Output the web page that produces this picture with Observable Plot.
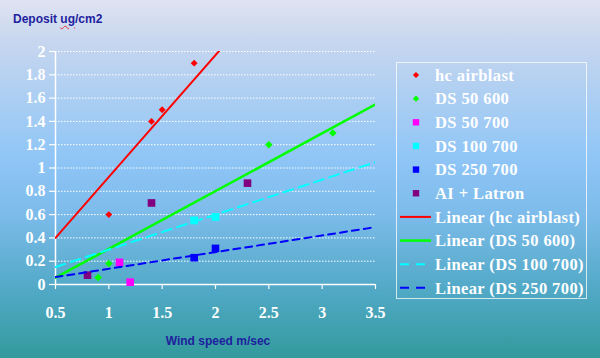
<!DOCTYPE html>
<html>
<head>
<meta charset="utf-8">
<script src="https://cdn.jsdelivr.net/npm/d3@7"></script>
<script src="https://cdn.jsdelivr.net/npm/@observablehq/plot@0.6"></script>
<style>
  html, body { margin: 0; padding: 0; }
  #wrap { position: relative; width: 600px; height: 358px; overflow: hidden;
    background: linear-gradient(to bottom, #dfe3f1 0%, #c6d6ef 12%, #8ec5f6 45%, #7cbbea 60%, #4fa8c4 82%, #339a9c 100%); }
  #wrap svg { position: absolute; left: 0; top: 0; }
  .ttl { position: absolute; font-family: "Liberation Sans", Arial, sans-serif; font-weight: bold; font-size: 12px; color: #1f1f9f; white-space: nowrap; }
  .wavy { text-decoration: underline wavy #e03030; text-decoration-thickness: 1px; text-underline-offset: 2px; }
</style>
</head>
<body>
<div id="wrap"></div>
<script>
// ---- data ----
const seriesNames = ["hc airblast", "DS 50 600", "DS 50 700", "DS 100 700", "DS 250 700", "AI + Latron"];
const hcAirblastX = [1.0, 1.4, 1.5, 1.8];
const hcAirblastY = [0.6, 1.4, 1.5, 1.9];
const ds50_600X = [0.9, 1.0, 2.5, 3.1];
const ds50_600Y = [0.06, 0.18, 1.2, 1.3];
const ds50_700X = [1.1, 1.2];
const ds50_700Y = [0.19, 0.02];
const ds100_700X = [1.8, 2.0];
const ds100_700Y = [0.55, 0.58];
const ds250_700X = [1.8, 2.0];
const ds250_700Y = [0.23, 0.31];
const aiLatronX = [0.8, 1.4, 2.3];
const aiLatronY = [0.08, 0.70, 0.87];

const trendNames = ["Linear (hc airblast)", "Linear (DS 50 600)", "Linear (DS 100 700)", "Linear (DS 250 700)"];
const trendSlope = [1.046, 0.496, 0.300, 0.143];
const trendIntercept = [-0.123, -0.190, 0.0, -0.008];

const xTicks = [0.5, 1, 1.5, 2, 2.5, 3, 3.5];
const yTicks = [0, 0.2, 0.4, 0.6, 0.8, 1, 1.2, 1.4, 1.6, 1.8, 2];
const yTitle = "Deposit ug/cm2";
const xTitle = "Wind speed m/sec";

// ---- styles ----
const seriesColor = ["#ff0000", "#00ff00", "#ff00ff", "#00ffff", "#0000ff", "#800080"];
const seriesSymbol = ["diamond2", "diamond2", "square", "square", "square", "square"];
const seriesR = [3.1, 3.4, 4.3, 4.4, 4.3, 4.3];
const trendColor = ["#ff0000", "#00ff00", "#00ffff", "#0000ff"];
const trendDash = [null, null, "10,6", "7,5"];
const trendWidth = [2, 2.5, 2, 2];

const xs = [hcAirblastX, ds50_600X, ds50_700X, ds100_700X, ds250_700X, aiLatronX];
const ys = [hcAirblastY, ds50_600Y, ds50_700Y, ds100_700Y, ds250_700Y, aiLatronY];
const points = seriesNames.flatMap((s, i) => xs[i].map((x, j) => ({series: s, i, x, y: ys[i][j]})));

const xDomain = [xTicks[0], xTicks[xTicks.length - 1]];
const trendLines = trendNames.map((name, i) =>
  xDomain.map(x => ({name, i, x, y: trendSlope[i] * x + trendIntercept[i]})));

const fmt = d => String(+d.toFixed(1));

const marks = [
  Plot.gridY(yTicks.filter(d => d > 0), {stroke: "white", strokeOpacity: 1, strokeWidth: 1, strokeDasharray: "1.5,1.5"}),
  Plot.axisY({ticks: yTicks, tickSize: 6, tickPadding: 4, tickFormat: fmt, label: null, stroke: "white", strokeWidth: 1.2}),
  Plot.axisX({ticks: xTicks, tickSize: 5, tickPadding: 17, tickFormat: fmt, label: null, stroke: "white", strokeWidth: 1.2}),
  Plot.ruleX([xDomain[0]], {stroke: "white", strokeWidth: 1.5}),
  Plot.ruleY([0], {stroke: "white", strokeWidth: 1.5})
];
points.length;
seriesNames.forEach((s, i) => {
  marks.push(Plot.dot(points.filter(p => p.i === i), {
    x: "x", y: "y", symbol: () => seriesSymbol[i], r: seriesR[i], fill: seriesColor[i], stroke: "none"
  }));
});
trendLines.forEach((line, i) => {
  marks.push(Plot.line(line, {
    x: "x", y: "y", stroke: trendColor[i], strokeWidth: trendWidth[i],
    strokeDasharray: trendDash[i] || undefined, clip: true
  }));
});

const chart = Plot.plot({
  width: 600, height: 358,
  marginLeft: 55, marginRight: 225, marginTop: 51, marginBottom: 74,
  x: {domain: xDomain},
  y: {domain: [yTicks[0], yTicks[yTicks.length - 1]]},
  style: {background: "transparent", color: "white", fontFamily: "'Liberation Serif', 'Times New Roman', serif",
          fontSize: "16px", fontWeight: "bold", overflow: "visible"},
  marks
});
const wrap = document.getElementById("wrap");
wrap.appendChild(chart);

// titles
const t1 = document.createElement("div");
t1.className = "ttl";
t1.style.left = "13px"; t1.style.top = "12px";
t1.innerHTML = yTitle.replace("ug", '<span class="wavy">ug</span>');
wrap.appendChild(t1);
const t2 = document.createElement("div");
t2.className = "ttl";
t2.textContent = xTitle;
t2.style.left = "218px"; t2.style.top = "334px"; t2.style.transform = "translateX(-50%)";
wrap.appendChild(t2);

// legend
const legendItems = seriesNames.map((s, i) => ({label: s, kind: "dot", i}))
  .concat(trendNames.map((s, i) => ({label: s, kind: "line", i})));
const lg = d3.select(wrap).append("svg").attr("width", 600).attr("height", 358);
lg.append("rect").attr("x", 396.5).attr("y", 62.5).attr("width", 190).attr("height", 236)
  .attr("fill", "none").attr("stroke", "white").attr("stroke-opacity", 0.75).attr("stroke-width", 1);
const rowY = k => 75 + k * 23.65;
const sym = {diamond2: d3.symbolDiamond2, square: d3.symbolSquare};
legendItems.forEach((it, k) => {
  const y = rowY(k);
  if (it.kind === "dot") {
    lg.append("path")
      .attr("d", d3.symbol(sym[seriesSymbol[it.i]], Math.PI * (seriesSymbol[it.i] === "square" ? 3.6 : 2.8) ** 2)())
      .attr("transform", `translate(416,${y})`).attr("fill", seriesColor[it.i]);
  } else {
    lg.append("line").attr("x1", 400).attr("x2", 431).attr("y1", y).attr("y2", y)
      .attr("stroke", trendColor[it.i]).attr("stroke-width", trendWidth[it.i])
      .attr("stroke-dasharray", trendDash[it.i] ? "9,7" : null);
  }
  lg.append("text").attr("x", 435).attr("y", y).attr("dy", "0.35em")
    .attr("fill", "white").attr("font-family", "'Liberation Serif', 'Times New Roman', serif")
    .attr("font-weight", "bold").attr("font-size", "16.5px").attr("letter-spacing", "0.4px")
    .text(it.label);
});
</script>
</body>
</html>
